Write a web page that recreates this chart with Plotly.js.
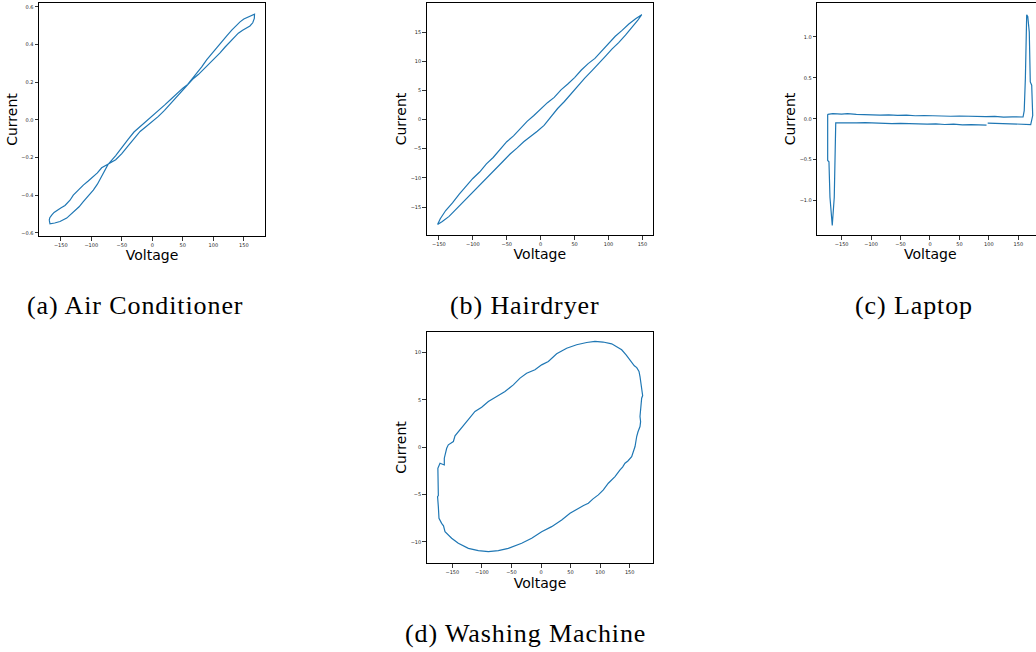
<!DOCTYPE html>
<html>
<head>
<meta charset="utf-8">
<script src="https://cdn.plot.ly/plotly-3.0.1.min.js"></script>
<style>
html,body{margin:0;padding:0;overflow:hidden;background:#fff;width:1036px;height:652px}
#plot{width:1050px;height:652px}
.annotation-text{letter-spacing:0.9px}
</style>
</head>
<body>
<div id="plot"></div>
<script>
// ---------------- data ----------------
const panelTitles = ["(a) Air Conditioner", "(b) Hairdryer", "(c) Laptop", "(d) Washing Machine"];
const xTitle = "Voltage";
const yTitle = "Current";

const voltageTicks = [-150, -100, -50, 0, 50, 100, 150];
const acCurrentTicks = [-0.6, -0.4, -0.2, 0.0, 0.2, 0.4, 0.6];
const hdCurrentTicks = [-15, -10, -5, 0, 5, 10, 15];
const lapCurrentTicks = [-1.0, -0.5, 0.0, 0.5, 1.0];
const wmCurrentTicks = [-10, -5, 0, 5, 10];

// (a) Air Conditioner
const acVoltage = [-168.9,-167.7,-160,-151.3,-140.3,-129.5,-120,-113.1,-105,-96.7,-90,-83.0,-77,-72.1,
  -60,-50,-40,-30,-20,-10,0,10,20,30,40,50,58,
  66,75.4,85,94.6,103,111.0,119,127.4,134,141.0,148,154.8,160,164.6,167.2,167.5,
  165.6,157.4,150,143.8,137,130.2,122,113.8,105,97.4,89,81.0,74,67.2,58,
  50,40,30,20,10,0,-10,-20,-30,-40,-50,-60,-72.1,
  -78,-83.0,-90,-96.7,-105,-113.1,-121,-129.5,-134.9,-140,-143.1,-150,-156.7,-161,-164.9,-168,-168.9];
const acCurrent = [-0.533,-0.552,-0.548,-0.540,-0.522,-0.489,-0.462,-0.435,-0.405,-0.373,-0.342,-0.303,-0.265,-0.235,
  -0.212,-0.180,-0.140,-0.100,-0.062,-0.036,-0.010,0.018,0.050,0.085,0.120,0.155,0.188,
  0.215,0.240,0.270,0.300,0.328,0.355,0.385,0.414,0.438,0.460,0.475,0.487,0.498,0.515,0.538,0.560,
  0.557,0.548,0.535,0.520,0.500,0.476,0.446,0.414,0.384,0.353,0.318,0.281,0.252,0.226,0.188,
  0.168,0.140,0.108,0.078,0.050,0.022,-0.005,-0.032,-0.065,-0.105,-0.148,-0.190,-0.235,
  -0.245,-0.255,-0.282,-0.303,-0.325,-0.347,-0.373,-0.400,-0.427,-0.447,-0.455,-0.468,-0.480,-0.492,-0.506,-0.520,-0.533];

// (b) Hairdryer
const hdVoltage = [-152,-148,-140,-130,-120,-110,-100,-90,-80,-70,-60,-50,-40,-30,-20,-10,0,10,20,30,40,50,60,70,80,90,100,110,120,130,140,149,
  143,135,125,115,105,95,85,75,65,55,45,35,25,15,5,-5,-15,-25,-35,-45,-55,-65,-75,-85,-95,-105,-115,-125,-135,-145,-152];
const hdCurrent = [-18.0,-17.0,-15.6,-14.3,-12.8,-11.5,-10.1,-9.0,-7.6,-6.5,-5.2,-3.8,-2.8,-1.5,-0.3,0.7,1.8,2.9,3.8,5.1,6.1,7.2,8.5,9.6,10.5,11.8,13.0,14.3,15.3,16.4,17.3,18.0,
  17.0,15.8,14.5,13.2,12.1,10.8,9.5,8.3,7.1,5.7,4.4,3.1,1.9,0.4,-1.0,-2.0,-2.9,-3.8,-4.9,-5.9,-7.1,-8.3,-9.5,-10.6,-11.8,-13.0,-14.2,-15.4,-16.6,-17.5,-18.0];

// (c) Laptop
const lapVoltage = [-173.7,-165,-150,-140,-125,-110,-100,-85,-70,-55,-40,-25,-10,5,20,35,50,65,80,95,110,125,140,150,158,
  160,162,164.2,166,168.6,170.3,172.7,174.4,171,
  160,150,140,125,110,98,null,96,85,70,55,40,25,10,-5,-20,-35,-50,-65,-80,-95,-110,-125,-140,-150,-160,
  -162.5,-165.9,-169.8,-171.5,-173.7,-173.7];
const lapCurrent = [0.055,0.062,0.058,0.063,0.055,0.050,0.053,0.045,0.048,0.041,0.045,0.037,0.040,0.034,0.037,0.031,0.034,0.029,0.031,0.026,0.029,0.021,0.024,0.019,0.022,
  0.10,0.50,1.27,1.25,1.06,0.45,0.41,0.04,-0.07,
  -0.068,-0.062,-0.066,-0.060,-0.063,-0.052,null,-0.078,-0.074,-0.072,-0.075,-0.066,-0.070,-0.062,-0.066,-0.060,-0.063,-0.056,-0.058,-0.052,-0.055,-0.048,-0.051,-0.046,-0.049,-0.050,
  -0.958,-1.304,-0.958,-0.525,-0.510,0.055];

// (d) Washing Machine
const wmVoltage = [91.4,105,119.6,128,136.5,144,150.6,157.9,162,165.8,167.5,169.2,170.3,172,170.3,169.2,167.5,168.5,167.5,164,161.9,159.1,156,153.4,147,142.1,138,133.7,125.2,119,113.9,105.5,97.0,88,80.1,72,63.2,49.1,35.0,18.0,1.1,-15.8,-32.7,-45,-55.3,-72.2,-89.1,-106.0,-122.9,-139.9,-151.2,-162.4,-165,-168.1,-172.6,-173.7,-175,-173.7,-173.7,-173.7,-174.5,-170.9,-163.6,-163.6,-159.6,-156.8,-148.3,-145.5,-137.1,-128.6,-120.1,-111.7,-100.4,-89.1,-75.0,-60.9,-46.8,-35.5,-24.3,-10.2,1.1,12.4,26.5,43.4,60.3,77.3,91.4];
const wmCurrent = [11.16,11.10,10.91,10.60,10.28,9.75,9.22,8.59,8.40,7.99,7.46,6.58,5.70,5.45,5.17,4.29,3.24,2.70,2.18,1.60,1.13,0.07,-0.50,-0.99,-1.45,-1.69,-2.10,-2.39,-3.10,-3.45,-3.80,-4.51,-5.03,-5.45,-5.91,-6.15,-6.44,-6.97,-7.67,-8.38,-8.91,-9.61,-10.14,-10.40,-10.67,-10.91,-11.02,-10.91,-10.67,-10.14,-9.61,-8.91,-8.30,-8.03,-7.50,-6.27,-5.21,-5.10,-3.80,-2.60,-2.22,-1.69,-1.87,-1.16,-0.11,0.25,0.60,1.20,1.83,2.53,3.06,3.77,4.22,4.82,5.35,5.88,6.58,7.29,7.81,8.17,8.69,9.05,9.86,10.45,10.81,11.05,11.16];

// ---------------- layout helpers ----------------
const W = 1050, H = 652;
const dx = (a, b) => [a / W, b / W];
const dy = (top, bottom) => [1 - bottom / H, 1 - top / H];
const lineColor = '#1f77b4';
const tickFont = {family: 'DejaVu Sans', size: 5, color: '#222'};
const titleFont = {family: 'DejaVu Sans', size: 14, color: '#000'};

function xAxis(domain, range, anchor) {
  return {domain, range, anchor, tickvals: voltageTicks, tickformat: 'd',
    ticks: 'outside', ticklen: 3.5, tickwidth: 0.8, tickcolor: '#000', tickfont: tickFont,
    showline: true, mirror: true, linecolor: '#000', linewidth: 1,
    showgrid: false, zeroline: false, automargin: false,
    title: {text: xTitle, font: titleFont, standoff: 0}};
}
function yAxis(domain, range, anchor, ticks, fmt) {
  return {domain, range, anchor, tickvals: ticks, tickformat: fmt,
    ticks: 'outside', ticklen: 3.5, tickwidth: 0.8, tickcolor: '#000', tickfont: tickFont,
    showline: true, mirror: true, linecolor: '#000', linewidth: 1,
    showgrid: false, zeroline: false, automargin: false,
    title: {text: yTitle, font: titleFont, standoff: 0}};
}

const traces = [
  {x: acVoltage, y: acCurrent, xaxis: 'x', yaxis: 'y'},
  {x: hdVoltage, y: hdCurrent, xaxis: 'x2', yaxis: 'y2'},
  {x: lapVoltage, y: lapCurrent, xaxis: 'x3', yaxis: 'y3'},
  {x: wmVoltage, y: wmCurrent, xaxis: 'x4', yaxis: 'y4'}
].map(t => Object.assign(t, {type: 'scatter', mode: 'lines', connectgaps: false,
  line: {color: lineColor, width: 1.2}, hoverinfo: 'skip'}));

const capFont = {family: 'Liberation Serif', size: 26, color: '#000'};
const captionPos = [[135, 305], [525, 305], [914, 305], [525, 633]];
const annotations = panelTitles.map((t, i) => ({
  text: t, xref: 'paper', yref: 'paper', x: captionPos[i][0] / W, y: 1 - captionPos[i][1] / H,
  xanchor: 'center', yanchor: 'middle', showarrow: false, font: capFont
}));

const layout = {
  width: W, height: H, margin: {l: 0, r: 0, t: 0, b: 0},
  paper_bgcolor: '#fff', plot_bgcolor: '#fff', showlegend: false,
  xaxis: xAxis(dx(39, 265), [-185.7, 184.7], 'y'),
  yaxis: yAxis(dy(3, 236), [-0.617, 0.62], 'x', acCurrentTicks, '.1f'),
  xaxis2: xAxis(dx(426.7, 653), [-168, 165.6], 'y2'),
  yaxis2: yAxis(dy(3, 235), [-19.8, 20.0], 'x2', hdCurrentTicks, 'd'),
  xaxis3: xAxis(dx(817.3, 1043.3), [-191.3, 192.4], 'y3'),
  yaxis3: yAxis(dy(3, 235), [-1.42, 1.415], 'x3', lapCurrentTicks, '.1f'),
  xaxis4: xAxis(dx(426.7, 653.3), [-193.4, 190], 'y4'),
  yaxis4: yAxis(dy(331.7, 563.3), [-12.25, 12.19], 'x4', wmCurrentTicks, 'd'),
  annotations
};

Plotly.newPlot('plot', traces, layout, {staticPlot: true, displayModeBar: false});
</script>
</body>
</html>
